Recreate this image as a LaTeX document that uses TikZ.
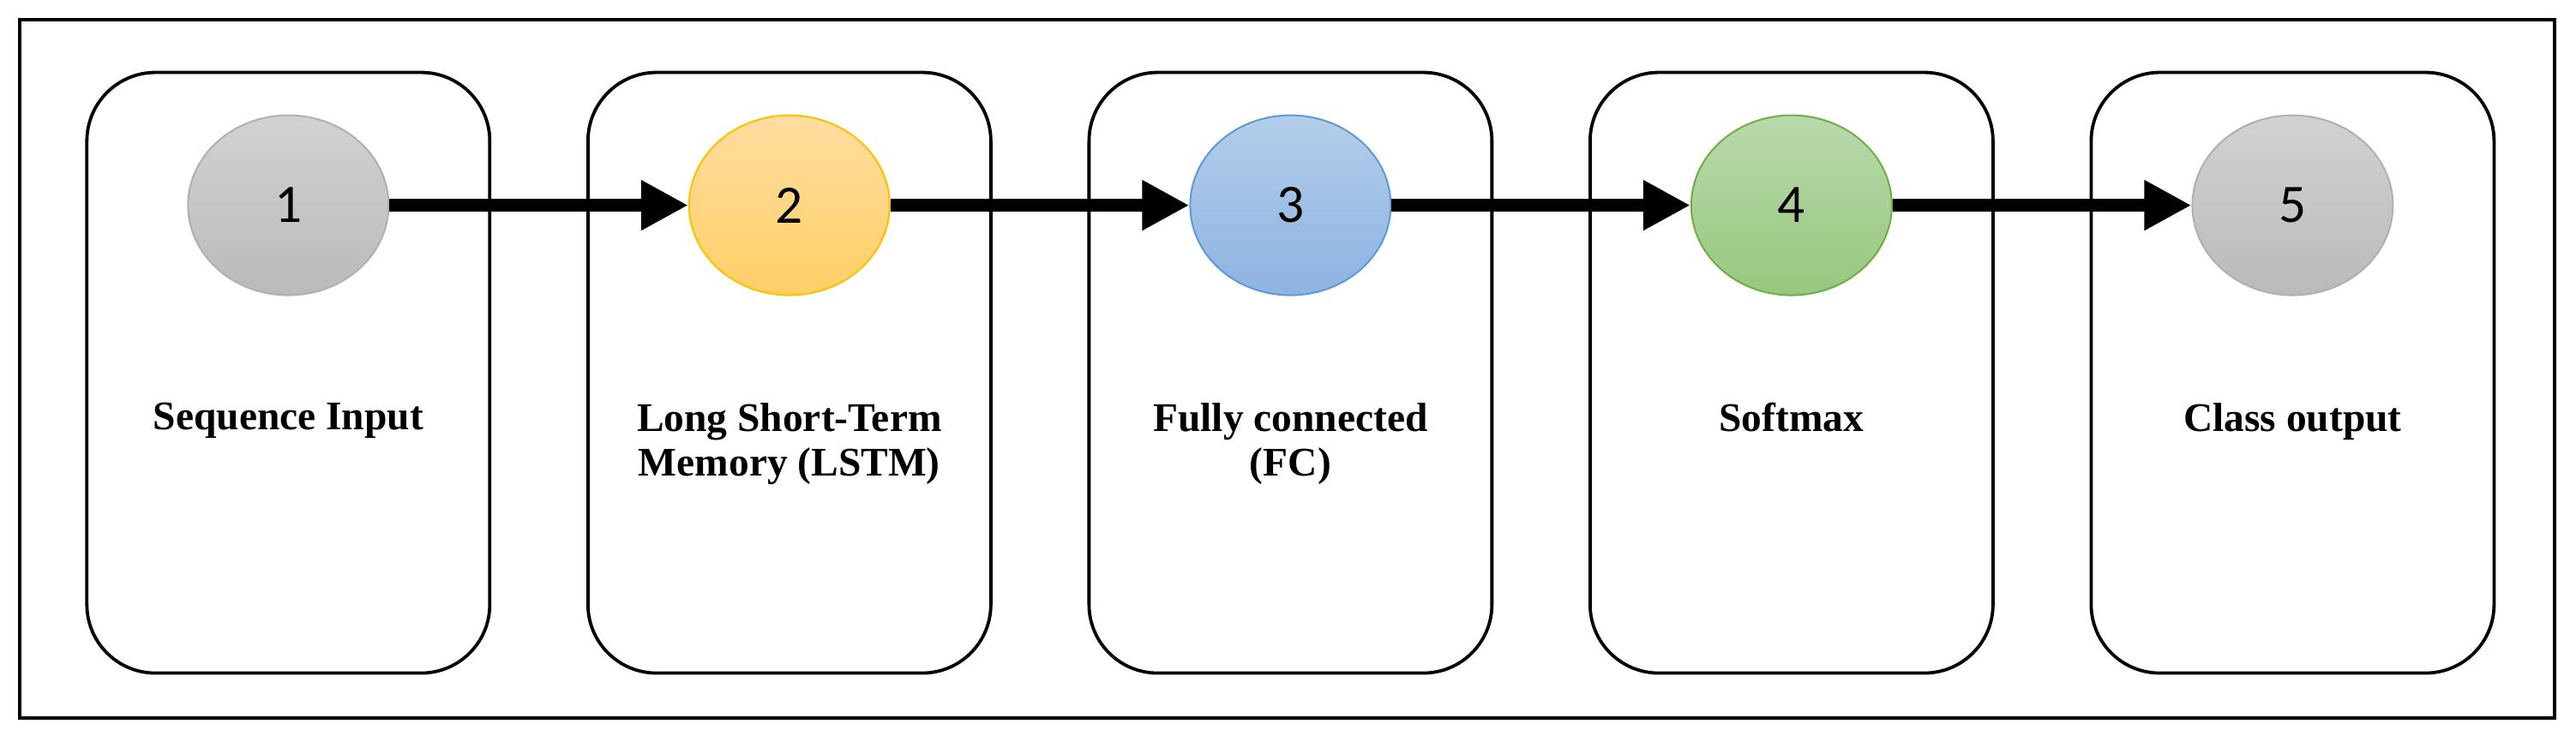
\documentclass[tikz,border=0pt]{standalone}
\usepackage{fontspec}
\setmainfont{Liberation Serif}
\newfontfamily\numfont{Carlito}
\usetikzlibrary{arrows.meta,shapes.geometric}
\definecolor{g1}{HTML}{D2D2D2}\definecolor{g2}{HTML}{BABABA}\definecolor{gb}{HTML}{B0B0B0}
\definecolor{o1}{HTML}{FFDDA0}\definecolor{o2}{HTML}{FFCF66}\definecolor{ob}{HTML}{FFC000}
\definecolor{b1}{HTML}{B4CDEA}\definecolor{b2}{HTML}{8DB3E2}\definecolor{bb}{HTML}{5B9BD5}
\definecolor{n1}{HTML}{B9DAAC}\definecolor{n2}{HTML}{98C77E}\definecolor{nb}{HTML}{70AD47}
\begin{document}
\begin{tikzpicture}[x=0.01916cm,y=-0.01916cm,
  box/.style={draw=black,line width=0.038cm,rounded corners=0.8cm,minimum width=4.7cm,minimum height=7.01cm},
  circ/.style={ellipse,minimum width=2.34cm,minimum height=2.1cm,line width=0.02cm,font=\numfont\fontsize{18}{20}\selectfont},
  lab/.style={font=\bfseries\fontsize{13.5}{15}\selectfont,align=center,anchor=north,inner sep=0pt},
  arr/.style={line width=0.15cm,-{Triangle[length=0.55cm,width=0.55cm]}}]
\useasboundingbox (0,0) rectangle (1568,448);
\draw[line width=0.04cm] (12,12) rectangle (1555,437);
\foreach \i/\x in {1/175.5,2/480.5,3/785.5,4/1090.5,5/1395.5}{
  \node[box] (box\i) at (\x,227) {};
}
\node[circ,draw=gb,top color=g1,bottom color=g2] (c1) at (175.5,125) {1};
\node[circ,draw=ob,top color=o1,bottom color=o2] (c2) at (480.5,125) {2};
\node[circ,draw=bb,top color=b1,bottom color=b2] (c3) at (785.5,125) {3};
\node[circ,draw=nb,top color=n1,bottom color=n2] (c4) at (1090.5,125) {4};
\node[circ,draw=gb,top color=g1,bottom color=g2] (c5) at (1395.5,125) {5};
\node[lab] (l1) at (175.5,245) {Sequence Input};
\node[lab] (l2) at (480.5,245) {Long Short-Term\\Memory (LSTM)};
\node[lab] (l3) at (785.5,245) {Fully connected\\(FC)};
\node[lab] (l4) at (1090.5,245) {Softmax};
\node[lab] (l5) at (1395.5,245) {Class output};
\foreach \a/\b in {c1/c2,c2/c3,c3/c4,c4/c5}{\draw[arr] (\a) -- (\b);}
\end{tikzpicture}
\end{document}
